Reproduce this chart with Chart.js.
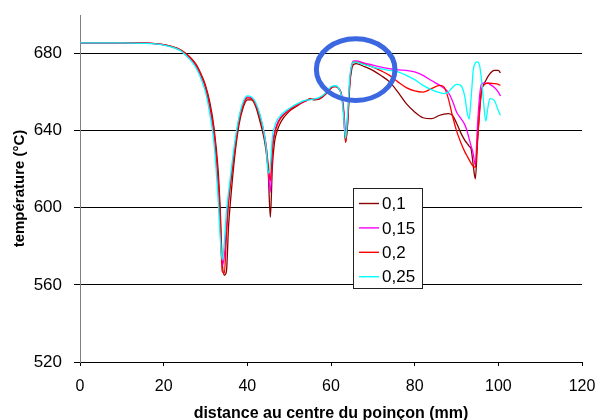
<!DOCTYPE html>
<html><head><meta charset="utf-8">
<script src="https://cdn.jsdelivr.net/npm/chart.js@4/dist/chart.umd.min.js"></script>
<style>html,body{margin:0;padding:0;background:#fff}canvas{display:block}</style>
</head><body>
<canvas id="c" width="596" height="420"></canvas>
<script>
const seriesLabels = ['0,1', '0,15', '0,2', '0,25'];
const seriesColors = ['#8b0000', '#ff00ff', '#ff0000', '#00ffff'];
const xTicks = [0, 20, 40, 60, 80, 100, 120];
const yTicks = [520, 560, 600, 640, 680];

const distance = [0,5,10,15,18, 20,22,24,26,27, 28,29,30,31,32, 33,33.5,34,34.5,35,
  35.5,36,37,38,39, 40,41,42,43,44, 44.5,45,45.5,46,46.5, 47,48,50,52,54,
  55,56,57,58,59, 60,61,62,62.5,63, 63.5,64,64.5,65,65.5, 66,68,70,72,74,
  76,78,80,82,84, 86,87,88,89,90, 91,92,92.5,93,93.5, 94,94.5,95,95.5,96,
  96.5,97,97.5,98,99, 100,100.5];

const temp01 = [685.5,685.5,685.5,685.4,685.2, 684.6,683.6,682.0,678.8,676.5,
  673.5,669.0,663.5,655,642, 620,600,572,565,567,
  590,604,627,643,652, 656,656,652.5,645,636,
  629,618,595,622,634, 639,644.5,650,653,655.5,
  656.5,656,656.2,657.5,659.5, 662,662.8,661.5,658.5,650,
  634,644,664,672.5,674.5, 674.8,673.2,671.3,668.5,665.3,
  660,654,649.7,646.7,646.2, 648,648.6,648.8,648,644,
  639,635,633.5,632,630.5, 622,615,633,650.5,661,
  664,666,668,669.6,671.3, 671.3,670];

const temp015 = [685.5,685.5,685.5,685.4,685.1, 684.5,683.4,681.7,678.2,675.8,
  672.5,668,662,652,638, 612,592,570,575,590,
  604,614,632,646,654, 657.5,657,654,648,639,
  632,620,608,632,639, 643,647,651,653.5,655.5,
  656.2,656.2,656.8,658,660, 662.3,663,661.5,659,652,
  640,648,666,674.5,676.2, 676.2,675,674,673,672.2,
  671.5,671.3,670.5,668.7,666, 663.5,662,660,655.7,649.7,
  646.5,643,640,636,632, 628,622,642,657.5,664.4,
  664.6,664.6,664.8,664,662.5, 660,658];

const temp02 = [685.5,685.5,685.5,685.5,685.2, 684.6,683.6,682,678.6,676.2,
  673,668.5,662.5,653,640, 615,595,567,566,585,
  602,612,630,645,653, 657,656.5,653.5,647,638,
  632,622,614,630,638, 642,646.5,650.5,653.5,655.5,
  656.5,656.3,656.5,657.8,659.8, 662.2,663,661.5,658.5,650,
  634,646,665,674,675.7, 675.7,674.5,673,671,668.7,
  665.3,662.3,660.6,660,661.8, 663.5,662.7,657,648,640,
  634,629,627,625,623, 621.5,621,635,648.8,661,
  663.5,664.4,664.6,664.6,664.4, 664,663.5];

const temp025 = [685.5,685.5,685.5,685.3,685.0, 684.4,683.3,681.5,677.5,675,
  671.5,666.5,660,649,634, 605,585,573,582,598,
  608,617,634,647,655, 658,657.5,654.5,648.5,639,
  631,618,622,637,642, 645,648,651.5,654,655.8,
  656,656.5,657,658.2,660.3, 662.8,663.3,661.5,658,648,
  636,650,668,674.5,675.7, 675.5,674.3,673,672,671.3,
  670.5,668.7,666.5,663.5,661.3, 659.7,659.2,660,662.3,664,
  663.5,657.5,650,646,657, 671.3,675.1,675.7,674,666,
  654,645,652,656.6,655.7, 650.5,648];

const seriesTemps = [temp01, temp015, temp02, temp025];
const highlight = { x: 65.9, y: 671.7, rx: 9.4, ry: 16 };

const FONT = "'Liberation Sans', Arial, sans-serif";

const datasets = seriesTemps.map((t, i) => ({
  label: seriesLabels[i],
  data: distance.map((d, j) => ({ x: d, y: t[j] })),
  borderColor: seriesColors[i],
  backgroundColor: seriesColors[i],
  borderWidth: 1.3,
  pointRadius: 0,
  fill: false,
  cubicInterpolationMode: 'monotone',
  order: 4 - i
}));

const overlay = {
  id: 'overlay',
  afterDatasetsDraw(chart) {
    const { ctx, scales: { x, y } } = chart;
    const cx = x.getPixelForValue(highlight.x);
    const cy = y.getPixelForValue(highlight.y);
    const rx = x.getPixelForValue(highlight.x + highlight.rx) - cx;
    const ry = cy - y.getPixelForValue(highlight.y + highlight.ry);
    ctx.save();
    ctx.beginPath();
    ctx.ellipse(cx, cy, rx, ry, 0, 0, Math.PI * 2);
    ctx.lineWidth = 5;
    ctx.strokeStyle = '#3b67e0';
    ctx.stroke();
    ctx.restore();
  },
  afterDraw(chart) {
    const { ctx } = chart;
    const bx = 353.5, by = 188.5, bw = 69, bh = 100;
    ctx.save();
    ctx.fillStyle = '#fff';
    ctx.fillRect(bx, by, bw, bh);
    ctx.strokeStyle = '#222';
    ctx.lineWidth = 1;
    ctx.strokeRect(bx, by, bw, bh);
    ctx.font = '17px ' + FONT;
    ctx.textBaseline = 'middle';
    ctx.textAlign = 'left';
    seriesLabels.forEach((lab, i) => {
      const yy = 203.5 + i * 24.4;
      ctx.beginPath();
      ctx.moveTo(359, yy);
      ctx.lineTo(379, yy);
      ctx.strokeStyle = seriesColors[i];
      ctx.lineWidth = 1.4;
      ctx.stroke();
      ctx.fillStyle = '#000';
      ctx.fillText(lab, 382, yy + 1);
    });
    ctx.restore();
  }
};

new Chart(document.getElementById('c'), {
  type: 'line',
  data: { datasets },
  plugins: [overlay],
  options: {
    responsive: false,
    animation: false,
    devicePixelRatio: 1,
    layout: { padding: { top: 15, right: 14, left: 0, bottom: 0 } },
    plugins: { legend: { display: false }, tooltip: { enabled: false } },
    scales: {
      x: {
        type: 'linear',
        min: xTicks[0], max: xTicks[xTicks.length - 1],
        afterBuildTicks: s => { s.ticks = xTicks.map(v => ({ value: v })); },
        ticks: { font: { family: FONT, size: 16 }, color: '#000', padding: 11, maxRotation: 0 },
        grid: { drawOnChartArea: false, drawTicks: true, tickLength: 4, color: '#000' },
        border: { color: '#000', width: 1 },
        title: { display: true, text: 'distance au centre du poinçon (mm)', color: '#000',
                 font: { family: FONT, size: 16, weight: 'bold' }, padding: { top: 0, bottom: -3 } },
        afterFit: s => { s.height = 58; s.paddingLeft = 0; s.paddingRight = 0; }
      },
      y: {
        type: 'linear',
        min: 520, max: 700,
        afterBuildTicks: s => { s.ticks = yTicks.map(v => ({ value: v })); },
        ticks: { font: { family: FONT, size: 17 }, color: '#000', padding: 12 },
        grid: { color: '#000', tickLength: 6, lineWidth: 1 },
        border: { color: '#808080', width: 1 },
        title: { display: true, text: 'température (°C)', color: '#000',
                 font: { family: FONT, size: 15, weight: 'bold' }, padding: { top: 11, bottom: 0 } },
        afterFit: s => { s.width = 80; s.paddingTop = 0; s.paddingBottom = 0; }
      }
    }
  }
});
</script>
</body></html>
